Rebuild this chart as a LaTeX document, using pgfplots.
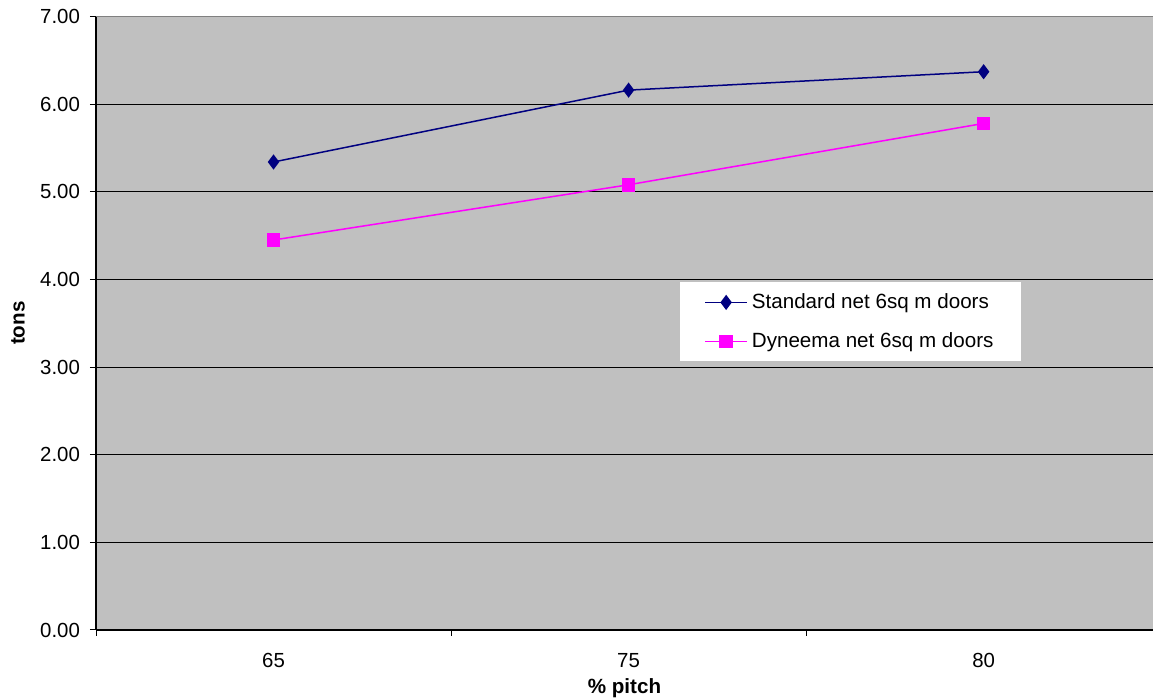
\documentclass[border=0pt]{standalone}
\usepackage{fontspec}
\setmainfont{Liberation Sans}
\usepackage{pgfplots}
\pgfplotsset{compat=1.18}
\definecolor{plotbg}{RGB}{192,192,192}
\definecolor{stdnavy}{RGB}{0,0,128}
\definecolor{dynmag}{RGB}{255,0,255}
\definecolor{topgray}{RGB}{128,128,128}
\begin{document}
\begin{tikzpicture}
\useasboundingbox (0,0) rectangle (576.5pt,350pt);
\begin{axis}[
  at={(48pt,35pt)}, anchor=south west,
  scale only axis,
  width=528.5pt, height=306.75pt,
  xmin=-0.5, xmax=2.477,
  ymin=0, ymax=7,
  axis x line*=bottom, axis y line*=left,
  axis line style={-, black, line width=0.75pt},
  axis background/.style={fill=plotbg},
  xtick={0,1,2}, xticklabels={65,75,80},
  major x tick style={draw=none},
  minor xtick={-0.5,0.5,1.5},
  minor tick length=3pt,
  minor x tick style={draw=black, line width=0.5pt},
  ytick={0,1,2,3,4,5,6,7},
  major tick length=3pt,
  tick align=outside,
  ytick style={draw=black, line width=0.5pt},
  ymajorgrids,
  grid style={black, line width=0.5pt},
  /pgf/number format/assume math mode=true,
  yticklabel={\pgfmathprintnumber[fixed, fixed zerofill, precision=2]{\tick}},
  tick label style={font=\fontsize{10.2}{12}\selectfont},
  yticklabel style={xshift=-1.5pt},
  xticklabel style={yshift=-5pt},
  xlabel={\textbf{\% pitch}},
  ylabel={\textbf{tons}},
  label style={font=\fontsize{10.3}{12}\selectfont},
  xlabel style={at={(axis description cs:0.5,-0.0945)}, anchor=center},
  ylabel style={at={(axis description cs:-0.0738,0.5)}, anchor=center},
  legend style={at={(rel axis cs:0.5525,0.5672)}, anchor=north west,
    draw=none, fill=white, font=\fontsize{10.3}{12}\selectfont,
    inner xsep=12pt, inner ysep=3.5pt, row sep=6.5pt},
  legend cell align=left,
  legend image code/.code={\draw[line width=0.75pt, mark repeat=2,mark phase=2] plot coordinates {(0pt,0pt) (10.5pt,0pt) (21pt,0pt)};},
]
\addplot[stdnavy, line width=0.75pt, mark=diamond*, mark size=3.2pt, mark options={fill=stdnavy, draw=stdnavy}]
  coordinates {(0,5.34) (1,6.16) (2,6.37)};
\addlegendentry{Standard net 6sq m doors}
\addplot[dynmag, line width=0.75pt, mark=square*, mark size=3pt, mark options={fill=dynmag, draw=dynmag}]
  coordinates {(0,4.45) (1,5.08) (2,5.78)};
\addlegendentry{Dyneema net 6sq m doors}
\draw[topgray, line width=0.75pt] (rel axis cs:0,1) -- (rel axis cs:1,1);
\end{axis}
\end{tikzpicture}
\end{document}
